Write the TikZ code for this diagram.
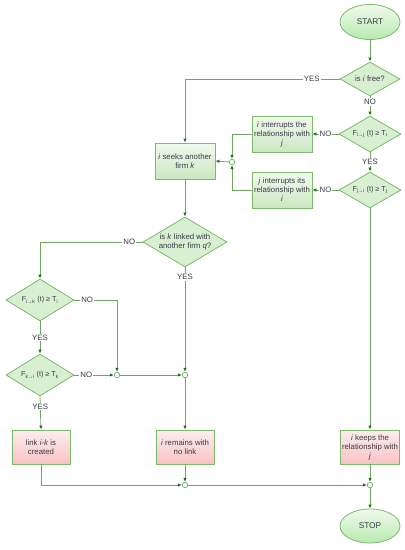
\documentclass[tikz,border=0pt]{standalone}
\usepackage{fontspec}
\setmainfont{Liberation Sans}
\usetikzlibrary{shapes.geometric,arrows.meta}
\definecolor{lineg}{HTML}{6FA860}
\definecolor{arrg}{HTML}{1E6E1E}
\definecolor{bordg}{HTML}{7DB86C}
\definecolor{gtop}{HTML}{F2FAEE}
\definecolor{gbot}{HTML}{CBE7C2}
\definecolor{ptop}{HTML}{FDEEEE}
\definecolor{pbot}{HTML}{F8C2C4}
\definecolor{dfill}{HTML}{D9EFD1}
\definecolor{txt}{HTML}{3A3A48}
\newcommand{\sbx}[1]{\textsubscript{#1}}
\begin{document}
\begin{tikzpicture}[x=1pt,y=-1pt,
  font=\fontsize{7.8}{9}\selectfont, text=txt,
  gbox/.style={draw=bordg, line width=0.8pt, top color=gtop, bottom color=gbot,
    minimum width=60pt, minimum height=36pt, inner sep=0.5pt, align=center},
  pbox/.style={gbox, top color=ptop, bottom color=pbot},
  dia/.style={diamond, draw=bordg, line width=0.8pt, fill=dfill, aspect=1.7,
    inner sep=0pt, align=center},
  fml/.style={font=\fontsize{7.2}{8.5}\selectfont},
  term/.style={ellipse, draw=bordg, line width=0.8pt, top color=gtop, bottom color=gbot!90!green,
    minimum width=60pt, minimum height=35pt, inner sep=0pt, font=\fontsize{8.3}{9}\selectfont},
  junc/.style={circle, draw=lineg, fill=white, line width=0.7pt, minimum size=5.5pt, inner sep=0pt},
  conn/.style={draw=lineg, line width=0.8pt},
  arr/.style={conn, -{Latex[length=4pt,width=3.4pt,color=arrg]}},
  lbl/.style={fill=white, inner sep=1pt, text=txt}
]
\useasboundingbox (0,0) rectangle (405,550);

% nodes
\node[term] (start) at (370,22) {START};
\node[dia, minimum width=60pt, minimum height=34pt] (free) at (370,79) {is \textit{i} free?};
\node[dia, fml, minimum width=62pt, minimum height=36pt] (fij) at (370,134) {F\sbx{i→j} (t) ≥ T\sbx{i}};
\node[dia, fml, minimum width=62pt, minimum height=36pt] (fji) at (370,190) {F\sbx{j→i} (t) ≥ T\sbx{j}};
\node[gbox] (int1) at (282,134) {\textit{i} interrupts the\\relationship with\\\textit{j}};
\node[gbox] (int2) at (282,190) {\textit{j} interrupts its\\relationship with\\\textit{i}};
\node[junc] (j1) at (232,162) {};
\node[gbox] (seek) at (185,161) {\textit{i} seeks another\\firm \textit{k}};
\node[dia, minimum width=84pt, minimum height=50pt] (linked) at (185,242) {is \textit{k} linked with\\another firm \textit{q}?};
\node[dia, fml, minimum width=68pt, minimum height=42pt] (fik) at (40,300) {F\sbx{i→k} (t) ≥ T\sbx{i}};
\node[dia, fml, minimum width=68pt, minimum height=42pt] (fki) at (40,375) {F\sbx{k→i} (t) ≥ T\sbx{k}};
\node[junc] (j3) at (117,375) {};
\node[junc] (j2) at (185,375) {};
\node[pbox, minimum width=58pt, minimum height=34pt] (link) at (41,447) {link \textit{i-k} is\\created};
\node[pbox, minimum width=58pt, minimum height=34pt] (remain) at (185,447) {\textit{i} remains with\\no link};
\node[pbox, minimum width=59pt, minimum height=34pt] (keep) at (370,447) {\textit{i} keeps the\\relationship with\\\textit{j}};
\node[junc] (j4) at (185,485) {};
\node[junc] (j5) at (370,485) {};
\node[term, minimum height=34pt] (stop) at (370,526) {STOP};

% connectors
\draw[arr] (start) -- (free);
\draw[arr] (free.west) -| node[lbl, pos=0.09] {YES} (seek.north);
\draw[arr] (free.south) -- node[lbl, pos=0.3] {NO} (fij.north);
\draw[arr] (fij.west) -- node[lbl] {NO} (int1.east);
\draw[arr] (fij.south) -- node[lbl] {YES} (fji.north);
\draw[arr] (fji.west) -- node[lbl] {NO} (int2.east);
\draw[arr] (int1.west) -| (j1.north);
\draw[arr] (int2.west) -| (j1.south);
\draw[arr] (j1.west) -- (seek.east);
\draw[arr] (seek.south) -- (linked.north);
\draw[arr] (linked.west) -| node[lbl, pos=0.065] {NO} (fik.north);
\draw[arr] (linked.south) -- node[lbl, pos=0.09] {YES} (j2.north);
\draw[arr] (fik.east) -| node[lbl, pos=0.15] {NO} (j3.north);
\draw[arr] (fik.south) -- node[lbl] {YES} (fki.north);
\draw[arr] (fki.east) -- node[lbl, pos=0.3] {NO} (j3.west);
\draw[arr] (j3.east) -- (j2.west);
\draw[arr] (fki.south) -- node[lbl, pos=0.3] {YES} (link.north);
\draw[arr] (j2.south) -- (remain.north);
\draw[arr] (link.south) |- (j4.west);
\draw[arr] (remain.south) -- (j4.north);
\draw[arr] (j4.east) -- (j5.west);
\draw[arr] (fji.south) -- (keep.north);
\draw[arr] (keep.south) -- (j5.north);
\draw[arr] (j5.south) -- (stop.north);
\end{tikzpicture}
\end{document}
